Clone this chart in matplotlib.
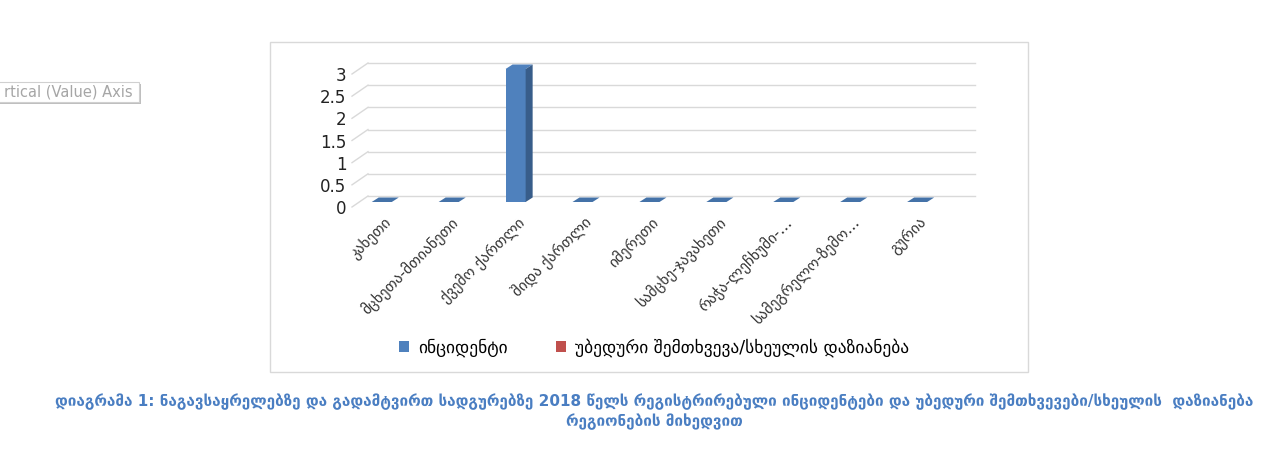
import matplotlib.pyplot as plt
import matplotlib.transforms as mtransforms
from matplotlib.patches import Patch, Polygon, Rectangle

plt.rcParams['font.family'] = ['DejaVu Sans']

regions = ["კახეთი", "მცხეთა-მთიანეთი", "ქვემო ქართლი", "შიდა ქართლი", "იმერეთი",
           "სამცხე-ჯავახეთი", "რაჭა-ლეჩხუმი-…", "სამეგრელო-ზემო…", "გურია"]
incidents = [0, 0, 3, 0, 0, 0, 0, 0, 0]
accidents = [None, None, None, None, None, None, None, None, None]  # no values in source
yticks = [0, 0.5, 1, 1.5, 2, 2.5, 3]
ytick_labels = ["0", "0.5", "1", "1.5", "2", "2.5", "3"]

series_names = ["ინციდენტი", "უბედური შემთხვევა/სხეულის დაზიანება"]
caption = ("დიაგრამა 1: ნაგავსაყრელებზე და გადამტვირთ სადგურებზე 2018 წელს რეგისტრირებული "
           "ინციდენტები და უბედური შემთხვევები/სხეულის  დაზიანება\nრეგიონების მიხედვით")

blue = "#4F81BD"
blue_side = "#385D8A"
blue_top = "#4472A8"
red = "#C0504D"
grid_col = "#D9D9D9"

W, H = 1263, 474
fig = plt.figure(figsize=(W / 100, H / 100), dpi=100)

# chart box
fig.patches.append(Rectangle((270 / W, 1 - 372 / H), (1028 - 270) / W, (372 - 42) / H,
                             transform=fig.transFigure, fill=False, edgecolor="#D9D9D9", lw=1))

# front plane of the 3d plot
ax = fig.add_axes([352 / W, 1 - 207 / H, (959 - 352) / W, (207 - 74) / H])
ax.set_xlim(-0.34, 8.73)
ax.set_ylim(0, 3)
for s in ax.spines.values():
    s.set_visible(False)
ax.patch.set_alpha(0)

# depth offsets in pixels
floor_dx, floor_dy = 16, 11
bar_dx, bar_dy = 7, 5
depth_dx, depth_dy = 7, 4.5

back = ax.transData + mtransforms.ScaledTranslation(floor_dx / 100, floor_dy / 100, fig.dpi_scale_trans)
front_bar = ax.transData + mtransforms.ScaledTranslation(bar_dx / 100, bar_dy / 100, fig.dpi_scale_trans)

x0, x1 = ax.get_xlim()
for t in yticks:
    # slanted piece: front left -> back left
    p_front = ax.transData.transform((x0, t))
    p_back = back.transform((x0, t))
    fig.add_artist(plt.Line2D([p_front[0], p_back[0]], [p_front[1], p_back[1]],
                              transform=None, color=grid_col, lw=1))
    ax.plot([x0, x1], [t, t], color=grid_col, lw=1, transform=back, zorder=0, clip_on=False)

# pixel -> data units for bar depth
px_x = ax.transData.transform((1, 0))[0] - ax.transData.transform((0, 0))[0]
px_y = ax.transData.transform((0, 1))[1] - ax.transData.transform((0, 0))[1]
ddx = depth_dx / px_x
ddy = depth_dy / px_y

width = 0.30
xs = list(range(len(regions)))
ax.bar(xs, incidents, width=width, color=blue, transform=front_bar, zorder=3, clip_on=False)
for x, v in zip(xs, incidents):
    l, r = x - width / 2, x + width / 2
    top = Polygon([(l, v), (r, v), (r + ddx, v + ddy), (l + ddx, v + ddy)], closed=True,
                  facecolor=blue_top if v == 0 else blue, edgecolor="none",
                  transform=front_bar, zorder=4, clip_on=False)
    ax.add_patch(top)
    if v > 0:
        side = Polygon([(r, 0), (r + ddx, ddy), (r + ddx, v + ddy), (r, v)], closed=True,
                       facecolor=blue_side, edgecolor="none",
                       transform=front_bar, zorder=4, clip_on=False)
        ax.add_patch(side)

# second series has no values
acc_x = [x for x, v in zip(xs, accidents) if v is not None]
acc_v = [v for v in accidents if v is not None]
ax.bar(acc_x, acc_v, width=width, color=red, transform=front_bar, zorder=3)

ax.set_yticks(yticks)
ax.set_yticklabels(ytick_labels, fontsize=12, color="#222222")
ax.set_xticks(xs)
ax.set_xticklabels(regions, rotation=45, ha="right", rotation_mode="anchor",
                   fontsize=11, color="#333333")
ax.tick_params(axis="both", length=0)
ax.tick_params(axis="y", pad=4)
ax.tick_params(axis="x", pad=5)
shift = mtransforms.ScaledTranslation(8 / 100, 0, fig.dpi_scale_trans)
for lab in ax.get_xticklabels():
    lab.set_transform(lab.get_transform() + shift)

handles = [Patch(facecolor=blue, edgecolor="none"), Patch(facecolor=red, edgecolor="none")]
fig.legend(handles, series_names, loc="center", bbox_to_anchor=(654 / W, 1 - 348 / H),
           ncol=2, frameon=False, fontsize=12.5, handlelength=0.6, handleheight=0.6,
           handletextpad=0.5, columnspacing=2.8)

fig.text(654 / W, 1 - 412 / H, caption, ha="center", va="center", fontsize=11,
         fontweight="bold", color="#4A7EC2", linespacing=1.3)

# leftover tooltip from the source screenshot
fig.patches.append(Rectangle((-5 / W, 1 - 104 / H), 146 / W, 20 / H, transform=fig.transFigure,
                             facecolor="#BFBFBF", edgecolor="none"))
fig.patches.append(Rectangle((-5 / W, 1 - 102 / H), 144 / W, 20 / H, transform=fig.transFigure,
                             facecolor="white", edgecolor="#D0D0D0", lw=0.8))
fig.text(4 / W, 1 - 92 / H, "rtical (Value) Axis", ha="left", va="center",
         fontsize=10.5, color="#A6A6A6")

fig.savefig("out.png", dpi=100)
